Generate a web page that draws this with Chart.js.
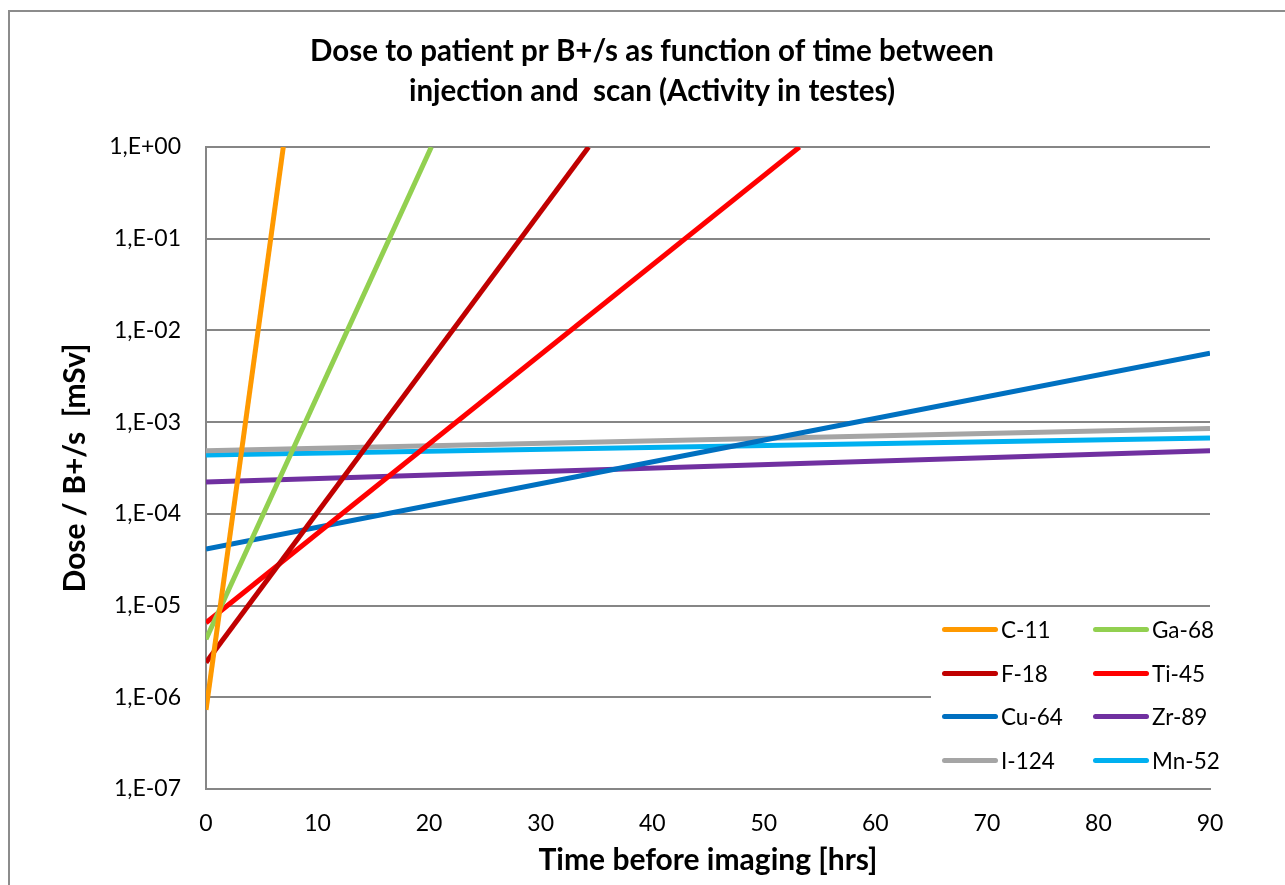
<!DOCTYPE html>
<html>
<head>
<meta charset="utf-8">
<script src="https://cdn.jsdelivr.net/npm/chart.js@4.4.0/dist/chart.umd.min.js"></script>
<style>
  html, body { margin: 0; padding: 0; background: #fff; overflow: hidden; }
  #wrap { position: relative; width: 1285px; height: 885px; overflow: hidden; }
  #frame { position: absolute; left: 8px; top: 10px; width: 2000px; height: 2000px; border: 2px solid #8c8c8c; box-sizing: border-box; }
  canvas { position: absolute; left: 0; top: 0; }
  #legend { position: absolute; left: 931px; top: 609px; width: 279px; height: 177px; background: #fff; font-family: Lato, "Open Sans", sans-serif; font-size: 22.5px; color: #000; }
  .item { position: absolute; height: 26px; line-height: 26px; white-space: nowrap; }
  .sw { position: absolute; left: 0; top: 10px; width: 56px; height: 5px; border-radius: 3px; }
  .lb { position: absolute; left: 59px; top: 0; }
</style>
</head>
<body>
<div id="wrap">
  <div id="frame"></div>
  <canvas id="c" width="1285" height="885"></canvas>
  <div id="legend"></div>
</div>
<script>
// ---- Data ----
const titleLines = ['Dose to patient pr B+/s as function of time between', 'injection and  scan (Activity in testes)'];
const xTitle = 'Time before imaging [hrs]';
const yTitle = 'Dose / B+/s  [mSv]';

const seriesNames  = ['C-11', 'Ga-68', 'F-18', 'Ti-45', 'Cu-64', 'Zr-89', 'I-124', 'Mn-52'];
const seriesColors = ['#FF9900', '#92D050', '#C00000', '#FF0000', '#0070C0', '#7030A0', '#A5A5A5', '#00B0F0'];

// time [hrs] and dose [mSv] pairs per nuclide
const c11Time  = [0, 6.93];      const c11Dose  = [7.3e-7, 1];
const ga68Time = [0, 20.2];      const ga68Dose = [4.3e-6, 1];
const f18Time  = [0, 34.3];      const f18Dose  = [2.4e-6, 1];
const ti45Time = [0, 53.2];      const ti45Dose = [6.5e-6, 1];
const cu64Time = [0, 45, 90];    const cu64Dose = [4.14e-5, 4.85e-4, 5.64e-3];
const zr89Time = [0, 90];        const zr89Dose = [2.23e-4, 4.89e-4];
const i124Time = [0, 90];        const i124Dose = [4.89e-4, 8.5e-4];
const mn52Time = [0, 90];        const mn52Dose = [4.38e-4, 6.73e-4];

const seriesTimes = [c11Time, ga68Time, f18Time, ti45Time, cu64Time, zr89Time, i124Time, mn52Time];
const seriesDoses = [c11Dose, ga68Dose, f18Dose, ti45Dose, cu64Dose, zr89Dose, i124Dose, mn52Dose];

const xTickValues = [0, 10, 20, 30, 40, 50, 60, 70, 80, 90];
const yTickValues = [1e-7, 1e-6, 1e-5, 1e-4, 1e-3, 1e-2, 1e-1, 1];
const yTickLabels = ['1,E-07', '1,E-06', '1,E-05', '1,E-04', '1,E-03', '1,E-02', '1,E-01', '1,E+00'];

// ---- Chart ----
const FONT = 'Lato, "Open Sans", sans-serif';
const GRID = '#868686';

const datasets = seriesNames.map((name, i) => ({
  label: name,
  data: seriesTimes[i].map((t, k) => ({ x: t, y: seriesDoses[i][k] })),
  borderColor: seriesColors[i],
  backgroundColor: seriesColors[i],
  borderWidth: 5,
  pointRadius: 0,
  tension: 0,
  fill: false
}));

const mainTitle = {
  id: 'mainTitle',
  afterDraw(chart) {
    const c = chart.ctx;
    c.save();
    c.fillStyle = '#000';
    c.font = 'bold 29.5px ' + FONT;
    c.textAlign = 'center';
    c.textBaseline = 'alphabetic';
    c.fillText(titleLines[0], 652, 61);
    c.fillText(titleLines[1], 652, 101);
    c.restore();
  }
};

new Chart(document.getElementById('c'), {
  type: 'line',
  data: { datasets },
  plugins: [mainTitle],
  options: {
    responsive: false,
    animation: false,
    events: [],
    layout: { padding: { left: 53, top: 147, right: 75, bottom: 0 } },
    plugins: { legend: { display: false }, title: { display: false }, tooltip: { enabled: false } },
    scales: {
      x: {
        type: 'linear', min: 0, max: 90,
        afterBuildTicks: s => { s.ticks = xTickValues.map(v => ({ value: v })); },
        ticks: { color: '#000', font: { family: FONT, size: 23 }, padding: 21, maxRotation: 0 },
        grid: { display: false, drawTicks: false },
        border: { display: true, color: GRID, width: 2 },
        title: { display: true, text: xTitle, color: '#000', font: { family: FONT, size: 30, weight: 'bold' }, padding: { top: 4, bottom: 7 } },
        afterFit: s => { s.height = 96; }
      },
      y: {
        type: 'logarithmic', min: 1e-7, max: 1,
        afterBuildTicks: s => { s.ticks = yTickValues.map(v => ({ value: v })); },
        ticks: { color: '#000', font: { family: FONT, size: 23 }, padding: 25, autoSkip: false,
                 callback: (v, i) => yTickLabels[i] },
        grid: { color: GRID, lineWidth: 2, drawTicks: false },
        border: { display: true, color: GRID, width: 2 },
        title: { display: true, text: yTitle, color: '#000', font: { family: FONT, size: 30, weight: 'bold' }, padding: { top: 4, bottom: 4 } },
        afterFit: s => { s.width = 153; }
      }
    }
  }
});

// ---- Legend (2 columns, row-major order) ----
const legend = document.getElementById('legend');
seriesNames.forEach((name, i) => {
  const row = Math.floor(i / 2), col = i % 2;
  const it = document.createElement('div');
  it.className = 'item';
  it.style.left = (11 + col * 151) + 'px';
  it.style.top = (8 + row * 43.7) + 'px';
  const sw = document.createElement('div');
  sw.className = 'sw';
  sw.style.background = seriesColors[i];
  const lb = document.createElement('div');
  lb.className = 'lb';
  lb.textContent = name;
  it.appendChild(sw); it.appendChild(lb);
  legend.appendChild(it);
});
</script>
</body>
</html>
